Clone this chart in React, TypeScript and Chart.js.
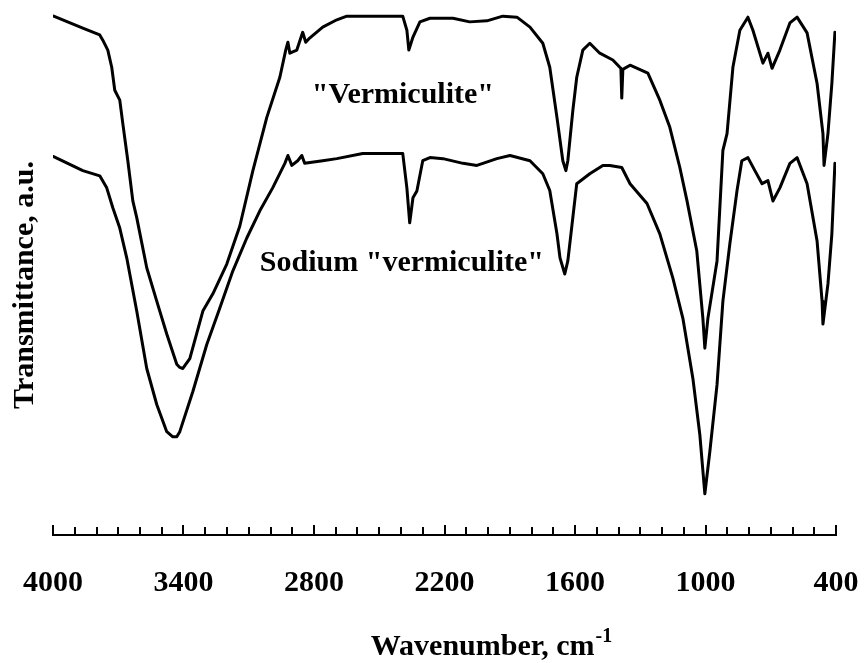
import { useEffect, useRef } from "react";
import { Chart, registerables } from "chart.js";

Chart.register(...registerables);

// IR spectrum of vermiculite (upper trace)
const vermWavenumber = [
  3997, 3863, 3785, 3771, 3748, 3730, 3716, 3693, 3679, 3656, 3633, 3615, 3569, 3523, 3477, 3431,
  3417, 3403, 3371, 3311, 3265, 3201, 3141, 3081, 3017, 2957, 2930, 2920, 2911, 2879, 2852, 2838,
  2820, 2760, 2695, 2649, 2392, 2373, 2364, 2345, 2313, 2267, 2161, 2084, 2005, 1932, 1867, 1807,
  1748, 1716, 1683, 1656, 1642, 1633, 1610, 1592, 1564, 1532, 1486, 1426, 1394, 1389, 1385, 1380,
  1347, 1265, 1210, 1164, 1118, 1085, 1040, 1012, 1003, 989, 947, 920, 901, 874, 842, 805, 782, 736,
  713, 694, 658, 612, 579, 533, 487, 460, 455, 437, 419, 405,
];
const vermTransmittance = [
  99.4, 97.1, 95.8, 94.8, 92.9, 89.6, 85.2, 83.3, 78.8, 71.7, 64.0, 60.8, 51.2, 44.8, 38.5, 32.7,
  32.1, 31.9, 33.8, 42.9, 46.2, 51.9, 59.2, 69.8, 80.0, 87.7, 92.9, 94.4, 92.3, 92.9, 96.3, 94.4,
  95.2, 97.3, 98.7, 99.4, 99.4, 96.7, 92.9, 95.4, 98.3, 99.0, 99.0, 98.3, 98.5, 99.4, 99.2, 97.3,
  94.2, 89.6, 80.0, 71.7, 69.8, 71.7, 81.3, 87.7, 92.9, 94.2, 92.3, 91.0, 89.6, 89.4, 83.7, 89.2,
  90.0, 88.5, 83.3, 78.1, 70.4, 64.0, 54.4, 41.5, 35.8, 41.5, 52.5, 73.7, 76.9, 89.6, 96.7, 99.2,
  96.7, 90.4, 92.3, 89.4, 92.9, 98.1, 99.2, 96.2, 86.5, 76.9, 70.8, 76.9, 86.5, 96.3,
];

// IR spectrum of the sodium-exchanged form (lower trace)
const sodiumWavenumber = [
  3997, 3863, 3785, 3753, 3725, 3693, 3661, 3615, 3569, 3523, 3477, 3449, 3431, 3417, 3357, 3293,
  3233, 3173, 3109, 3049, 2990, 2934, 2920, 2902, 2875, 2856, 2843, 2760, 2695, 2576, 2392, 2373,
  2360, 2345, 2327, 2300, 2267, 2207, 2115, 2051, 1959, 1899, 1807, 1748, 1716, 1683, 1669, 1647,
  1633, 1610, 1592, 1532, 1472, 1440, 1385, 1347, 1269, 1210, 1150, 1104, 1058, 1026, 1003, 980,
  947, 920, 888, 855, 833, 805, 773, 740, 713, 690, 658, 612, 579, 533, 487, 464, 460, 437, 419, 405,
];
const sodiumTransmittance = [
  72.5, 69.8, 68.8, 66.5, 62.7, 58.8, 53.1, 42.9, 31.9, 25.0, 19.8, 18.8, 18.8, 19.8, 27.5, 36.5,
  43.5, 50.6, 56.9, 62.1, 66.5, 71.2, 72.7, 70.8, 71.7, 72.7, 71.2, 71.7, 72.1, 73.1, 73.1, 66.5,
  59.8, 64.6, 65.9, 71.7, 72.3, 72.1, 71.2, 70.8, 72.1, 72.7, 71.7, 69.2, 66.0, 57.7, 53.1, 50.0,
  52.5, 60.8, 67.3, 69.2, 70.8, 70.8, 70.4, 67.3, 63.5, 57.7, 49.2, 41.5, 30.0, 19.2, 7.9, 16.0,
  28.8, 44.8, 55.8, 66.0, 71.7, 72.3, 69.8, 67.3, 67.9, 64.0, 66.5, 71.2, 72.3, 67.3, 56.3, 44.8,
  40.4, 48.1, 57.7, 71.2,
];

// Axis range and tick spacing (cm-1)
const axisMin = 400;
const axisMax = 4000;
const minorStep = 100;
const majorStep = 600;

// Text
const seriesNames = ['"Vermiculite"', 'Sodium "vermiculite"'];
// Left edge / baseline of each curve label, in data units (cm-1, a.u.)
const labelWavenumber = [2810, 3049];
const labelTransmittance = [82.7, 50.5];
const xTitle = "Wavenumber, cm";
const xTitleSup = "-1";
const yTitle = "Transmittance, a.u.";

const FAMILY = '"Liberation Serif", "Times New Roman", serif';

const decorations = {
  id: "decorations",
  afterDraw(chart: any) {
    const { ctx, chartArea, scales } = chart;
    const x = scales.x;
    const y = scales.y;
    ctx.save();

    // inward tick marks on the wavenumber axis
    ctx.strokeStyle = "#000";
    ctx.lineWidth = 2;
    for (const t of x.ticks) {
      const px = Math.round(x.getPixelForValue(t.value));
      const major = (t.value - axisMin) % majorStep === 0;
      ctx.beginPath();
      ctx.moveTo(px, chartArea.bottom);
      ctx.lineTo(px, chartArea.bottom - (major ? 10 : 8));
      ctx.stroke();
    }

    ctx.fillStyle = "#000";
    ctx.font = `bold 30px ${FAMILY}`;
    ctx.textBaseline = "alphabetic";

    // curve labels
    ctx.textAlign = "left";
    seriesNames.forEach((name, i) => {
      ctx.fillText(name, x.getPixelForValue(labelWavenumber[i]), y.getPixelForValue(labelTransmittance[i]));
    });

    // vertical axis title
    ctx.save();
    ctx.translate(chartArea.left - 20, 285);
    ctx.rotate(-Math.PI / 2);
    ctx.textAlign = "center";
    ctx.fillText(yTitle, 0, 0);
    ctx.restore();

    // horizontal axis title with superscript
    const mainW = ctx.measureText(xTitle).width;
    ctx.font = `bold 20px ${FAMILY}`;
    const supW = ctx.measureText(xTitleSup).width;
    const base = chartArea.bottom + 120;
    const left = 491 - (mainW + supW) / 2;
    ctx.textAlign = "left";
    ctx.font = `bold 30px ${FAMILY}`;
    ctx.fillText(xTitle, left, base);
    ctx.font = `bold 20px ${FAMILY}`;
    ctx.fillText(xTitleSup, left + mainW + 1, base - 13);

    ctx.restore();
  },
};

export default function App() {
  const canvasRef = useRef<HTMLCanvasElement | null>(null);

  useEffect(() => {
    const canvas = canvasRef.current;
    if (!canvas) return;

    const toPoints = (xs: number[], ys: number[]) => xs.map((v, i) => ({ x: v, y: ys[i] }));

    const line = {
      borderColor: "#000",
      borderWidth: 3,
      pointRadius: 0,
      tension: 0,
      fill: false,
      borderJoinStyle: "round" as const,
      borderCapStyle: "round" as const,
    };

    const chart = new Chart(canvas, {
      type: "line",
      data: {
        datasets: [
          { label: seriesNames[0], data: toPoints(vermWavenumber, vermTransmittance), ...line },
          { label: seriesNames[1], data: toPoints(sodiumWavenumber, sodiumTransmittance), ...line },
        ],
      },
      options: {
        animation: false,
        responsive: false,
        devicePixelRatio: 1,
        layout: { padding: { left: 53, right: 29, top: 13, bottom: 62 } },
        plugins: { legend: { display: false }, tooltip: { enabled: false } },
        scales: {
          x: {
            type: "linear",
            position: "bottom",
            reverse: true,
            min: axisMin,
            max: axisMax,
            // grid lines hidden; the tick length only reserves the gap above the labels
            grid: { display: false, drawTicks: true, tickLength: 30 },
            border: { display: true, color: "#000", width: 2 },
            ticks: {
              stepSize: minorStep,
              autoSkip: false,
              maxRotation: 0,
              padding: 0,
              color: "#000",
              font: { family: FAMILY, size: 30, weight: "bold" },
              callback: (value: any) => ((Number(value) - axisMin) % majorStep === 0 ? String(value) : ""),
            },
          },
          y: {
            display: false,
            min: 0,
            max: 100,
          },
        },
      },
      plugins: [decorations],
    });

    return () => chart.destroy();
  }, []);

  return (
    <div style={{ position: "absolute", left: 0, top: 0, width: 865, height: 663, background: "#fff" }}>
      <canvas ref={canvasRef} width={865} height={663} style={{ display: "block" }} />
    </div>
  );
}
